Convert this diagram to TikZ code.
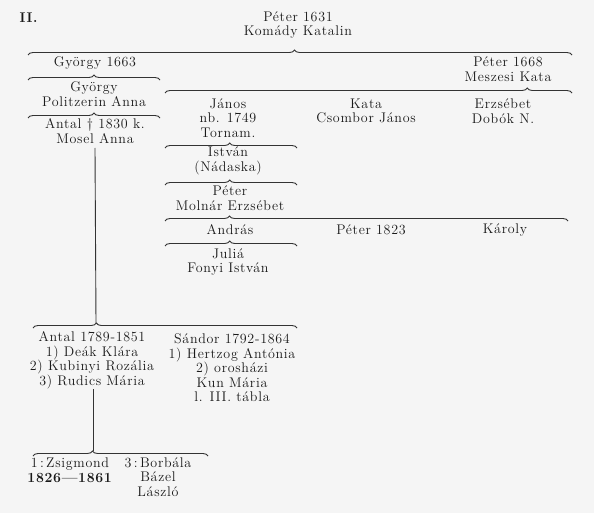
\documentclass[tikz,border=0pt]{standalone}
\usepackage{fontspec}
\setmainfont{Latin Modern Roman}[LetterSpace=5]
\usetikzlibrary{decorations.pathreplacing}

\begin{document}
\begin{tikzpicture}[x=1pt,y=-1pt,
  person/.style={align=center, inner sep=0pt, font=\fontsize{14}{14.5}\selectfont, text=black!90},
  famb/.style={decorate, decoration={brace, amplitude=5pt, aspect=#1}, line width=0.9pt, draw=black!80},
  famb/.default=0.5,
  line/.style={line width=0.9pt, draw=black!80}
]
\fill[black!4] (0,0) rectangle (594,513);
\useasboundingbox (0,0) rectangle (594,513);

% generations
\node[person] (ii) at (29,18) {\textbf{II.}};
\node[person] (p1631) at (298,25) {Péter 1631\\Komády Katalin};
\node[person] (gy1663) at (95,63) {György 1663};
\node[person] (p1668) at (508,69) {Péter 1668\\Meszesi Kata};
\node[person] (gy) at (94,94) {György\\Politzerin Anna};
\node[person] (antal1830) at (95,131) {Antal \dag\ 1830 k.\\Mosel Anna};
\node[person] (janos) at (228,118) {János\\nb. 1749\\Tornam.};
\node[person] (kata) at (366,111) {Kata\\Csombor János};
\node[person] (erzs) at (503,111) {Erzsébet\\Dobók N.};
\node[person] (istvan) at (228,161) {István\\(Nádaska)};
\node[person] (peter) at (230,198) {Péter\\Molnár Erzsébet};
\node[person] (andras) at (230,230) {András};
\node[person] (p1823) at (371,230) {Péter 1823};
\node[person] (karoly) at (505,230) {Károly};
\node[person] (julia) at (228,262) {Juliá\\Fonyi István};
\node[person] (antal1789) at (92,360.5) {Antal 1789-1851\\1) Deák Klára\\2) Kubinyi Rozália\\3) Rudics Mária};
\node[person] (sandor) at (232,368) {Sándor 1792-1864\\1) Hertzog Antónia\\2) orosházi\\Kun Mária\\l. III. tábla};
\node[person] (zsig) at (70,470) {1\,:\,Zsigmond\\\textbf{1826---1861}};
\node[person] (borb) at (158,477) {3\,:\,Borbála\\Bázel\\László};

% brace ends
\coordinate (b1l) at (28,55);   \coordinate (b1r) at (572,55);
\coordinate (b2l) at (28,80);   \coordinate (b2r) at (160,80);
\coordinate (b3l) at (28,118);  \coordinate (b3r) at (160,118);
\coordinate (b4l) at (165,93);  \coordinate (b4r) at (572,93);
\coordinate (b5l) at (165,148); \coordinate (b5r) at (297,148);
\coordinate (b6l) at (165,185); \coordinate (b6r) at (297,185);
\coordinate (b7l) at (165,221); \coordinate (b7r) at (568,221);
\coordinate (b8l) at (165,246); \coordinate (b8r) at (297,246);
\coordinate (b9l) at (33,328);  \coordinate (b9r) at (297,328);
\coordinate (b10l) at (33,456); \coordinate (b10r) at (208,456);
\coordinate (t9) at (96,323);
\coordinate (t10) at (93,451);

\draw[famb=0.49] (b1l) -- (b1r);
\draw[famb=0.5] (b2l) -- (b2r);
\draw[famb=0.5] (b3l) -- (b3r);
\draw[famb=0.89] (b4l) -- (b4r);
\draw[famb=0.49] (b5l) -- (b5r);
\draw[famb=0.49] (b6l) -- (b6r);
\draw[famb=0.16] (b7l) -- (b7r);
\draw[famb=0.49] (b8l) -- (b8r);
\draw[famb=0.24] (b9l) -- (b9r);
\draw[famb=0.34] (b10l) -- (b10r);

% descent lines
\draw[line] (antal1830.south |- 0,148) -- (t9);
\draw[line] (t10 |- antal1789.south) -- (t10);
\end{tikzpicture}
\end{document}
